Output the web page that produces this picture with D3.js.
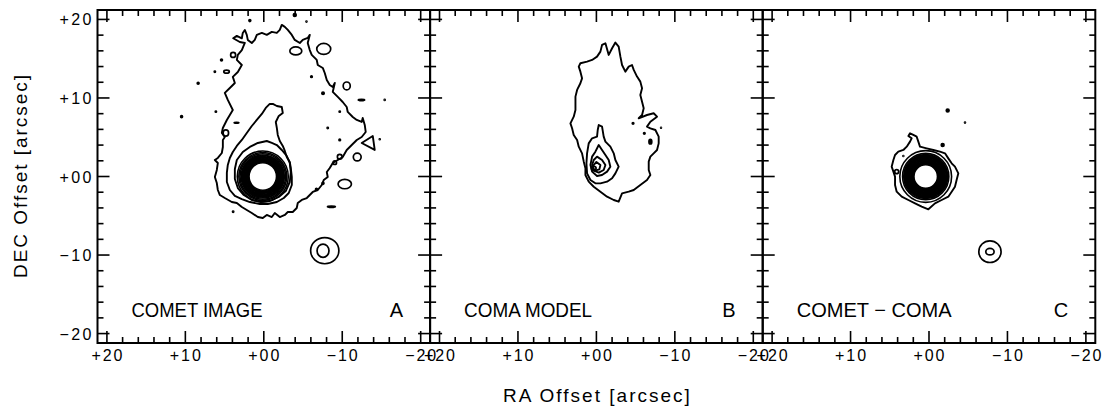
<!DOCTYPE html>
<html>
<head>
<meta charset="utf-8">
<script src="https://cdn.jsdelivr.net/npm/d3@7"></script>
<style>
  body { margin: 0; background: #fff; }
  text { font-family: "Liberation Sans", Arial, Helvetica, sans-serif; fill: #000; }
</style>
</head>
<body>
<div id="chart"></div>
<script>
// tick values + labels (arcsec)
const majorTicks = [20, 10, 0, -10, -20];
const tickLabels = ["+20", "+10", "+00", "\u221210", "\u221220"];
const panelTitles = ["COMET IMAGE", "COMA MODEL", "COMET \u2212 COMA"];
const panelLetters = ["A", "B", "C"];

// contour lines, [RA, DEC] in arcsec
const outerA = [[3.9,17.6],[3.44,17.9],[2.8,17.6],[2.68,18.28],[2.42,18.66],[2.17,18.03],[2.04,17.39],[1.53,17.0],[1.15,17.39],[0.89,18.03],[0.25,18.28],[-0.38,18.03],[-1.02,18.41],[-1.66,18.28],[-2.04,18.66],[-2.29,19.3],[-2.68,19.05],[-3.06,18.66],[-3.57,18.03],[-3.95,17.39],[-4.59,17.0],[-4.97,17.39],[-5.6,17.64],[-5.86,18.03],[-5.6,17.0],[-5.86,16.1],[-6.11,15.48],[-6.75,14.84],[-6.88,14.2],[-7.52,13.82],[-7.77,13.18],[-8.03,12.29],[-8.41,11.66],[-8.79,11.4],[-9.05,11.91],[-8.79,10.77],[-9.43,10.13],[-10.06,9.49],[-10.57,8.85],[-10.7,8.22],[-11.34,7.58],[-11.85,7.2],[-12.48,6.94],[-12.61,7.45],[-12.87,6.56],[-12.99,5.67],[-12.48,5.03],[-11.85,4.65],[-11.21,4.01],[-10.57,3.38],[-10.06,2.48],[-9.43,2.1],[-8.79,1.72],[-8.41,1.08],[-8.03,0.57],[-8.15,-0.06],[-7.64,-0.45],[-7.39,-1.08],[-6.88,-1.72],[-6.24,-1.97],[-5.86,-2.36],[-5.48,-2.74],[-4.84,-2.99],[-4.33,-3.38],[-4.2,-4.01],[-3.69,-4.52],[-3.06,-4.52],[-2.68,-4.9],[-2.04,-5.16],[-1.4,-4.65],[-1.02,-5.16],[-0.38,-4.9],[0.13,-5.29],[0.76,-5.16],[1.53,-4.65],[2.17,-4.27],[2.8,-3.89],[3.44,-3.38],[4.08,-3.25],[4.97,-2.74],[5.6,-2.36],[5.86,-1.72],[5.99,-0.83],[6.24,-0.06],[5.99,0.83],[5.86,1.72],[6.24,2.1],[5.86,2.36],[5.35,2.99],[5.22,3.76],[5.22,4.65],[4.97,5.03],[5.35,5.54],[5.22,6.18],[4.71,7.2],[4.33,7.83],[3.95,8.47],[4.59,9.75],[4.97,10.64],[4.33,11.27],[3.69,11.91],[3.95,12.68],[3.31,13.31],[2.8,14.2],[3.44,14.84],[3.31,15.48],[2.8,16.1],[2.42,17.0],[3.06,17.13]];
const tearA = [[-0.76,9.24],[-0.25,8.73],[0.25,7.96],[0.89,7.2],[1.53,6.43],[2.17,5.54],[2.8,4.65],[3.44,3.89],[3.95,3.12],[4.33,2.36],[4.59,1.47],[4.71,0.45],[4.71,-0.7],[4.33,-1.72],[3.69,-2.48],[2.8,-2.87],[1.78,-3.25],[0.51,-3.5],[-0.51,-3.5],[-1.66,-3.25],[-2.55,-2.74],[-3.18,-2.1],[-3.57,-1.08],[-3.57,-0.06],[-3.44,1.08],[-3.31,1.85],[-2.93,2.48],[-2.68,3.25],[-2.42,3.89],[-2.04,4.52],[-1.78,5.29],[-1.66,6.18],[-1.53,6.94],[-1.91,7.71],[-2.42,8.09],[-2.29,8.85],[-1.66,8.98],[-1.15,9.24]];
const innerA = [[3.44,2.1],[2.68,3.12],[1.78,3.76],[0.76,4.27],[-0.38,4.52],[-1.02,4.27],[-1.66,4.01],[-2.29,3.38],[-2.93,2.61],[-3.31,1.72],[-3.44,0.57],[-3.31,-0.7],[-2.8,-1.85],[-1.91,-2.61],[-0.76,-3.12],[0.38,-3.25],[1.53,-2.99],[2.55,-2.36],[3.31,-1.47],[3.69,-0.32],[3.69,0.96]];
const triA = [[-12.48,4.27],[-13.89,5.16],[-14.14,3.38]];

const outerB = [[-0.72,16.75],[-1.15,16.96],[-1.57,15.48],[-2.0,16.33],[-2.42,17.05],[-2.84,16.54],[-3.06,15.26],[-3.27,14.2],[-3.69,13.35],[-4.12,13.99],[-4.54,14.2],[-4.76,13.57],[-5.18,12.72],[-5.6,12.08],[-5.82,11.23],[-5.6,10.38],[-5.82,9.53],[-6.03,8.68],[-5.82,7.83],[-5.39,7.41],[-6.45,7.83],[-7.3,8.05],[-7.73,7.62],[-6.88,6.98],[-6.45,6.35],[-6.88,6.14],[-7.52,5.92],[-7.94,5.07],[-7.94,4.22],[-7.73,3.38],[-7.3,2.95],[-6.88,2.53],[-6.67,1.89],[-6.67,0.83],[-6.88,0.19],[-6.45,-0.45],[-5.6,-1.08],[-4.76,-1.72],[-4.12,-1.93],[-3.27,-2.14],[-2.84,-3.21],[-2.21,-2.99],[-1.36,-2.57],[-0.51,-1.93],[0.34,-1.3],[0.98,-0.66],[1.4,0.19],[1.4,1.04],[1.61,1.89],[1.83,2.95],[2.25,3.8],[2.46,4.65],[2.89,5.29],[3.1,6.14],[3.31,6.77],[2.89,7.62],[2.67,8.47],[2.67,9.32],[2.67,10.17],[2.46,11.02],[2.04,11.87],[1.83,12.5],[2.04,13.35],[2.25,13.99],[2.04,14.42],[1.19,14.63],[0.55,14.84],[-0.08,15.26],[-0.51,15.9]];
const midB = [[-0.3,6.56],[-0.72,6.35],[-0.93,5.07],[-1.15,4.44],[-1.78,3.8],[-2.21,2.95],[-2.42,2.1],[-2.84,1.25],[-2.42,0.4],[-2.0,-0.23],[-1.36,-0.66],[-0.51,-0.87],[0.13,-0.87],[0.76,-0.45],[1.19,0.4],[1.27,1.68],[1.19,2.95],[0.98,4.22],[0.55,4.86],[-0.08,5.07],[-0.17,5.92]];
const innerB = [[-0.3,4.01],[-0.72,3.38],[-1.15,2.74],[-1.57,2.1],[-1.78,1.25],[-1.36,0.62],[-0.72,0.19],[-0.08,0.06],[0.55,0.62],[0.76,1.46],[0.55,2.53],[0.13,3.16]];
const coreB1 = [[-0.08,2.53],[-0.72,2.1],[-1.15,1.46],[-0.93,0.83],[-0.3,0.49],[0.34,0.74],[0.55,1.46],[0.34,2.1]];
const coreB2 = [[0.0,1.85],[-0.51,1.46],[-0.38,0.91],[0.17,0.74],[0.51,1.25]];

const outerC = [[2.42,5.5],[2.0,5.29],[1.57,5.07],[1.36,4.44],[1.15,3.8],[0.3,3.59],[-0.55,3.38],[-1.4,3.16],[-2.04,2.95],[-2.46,2.31],[-2.89,1.68],[-3.31,1.25],[-3.74,0.4],[-3.52,-0.45],[-3.31,-1.3],[-2.89,-1.93],[-2.46,-2.57],[-1.61,-2.99],[-0.76,-3.42],[0.08,-4.18],[0.93,-3.84],[1.78,-3.42],[2.63,-2.99],[3.48,-2.57],[4.12,-1.93],[4.33,-1.08],[4.33,-0.02],[4.54,0.62],[4.76,1.25],[4.54,2.1],[4.33,2.74],[3.91,3.16],[3.27,3.38],[2.84,3.8],[2.42,4.44],[2.21,4.86],[2.63,5.16]];

// saturated nucleus: centre + contour radii (arcsec)
const nucleusA = [0.13, 0.0];
const ringsA = [1.75,1.85,1.95,2.05,2.15,2.25,2.35,2.45,2.55,2.65,2.75,2.9,3.05,3.25];
const nucleusC = [0.42, 0.0];
const ringsC = [1.5,1.6,1.7,1.8,1.9,2.0,2.1,2.2,2.3,2.4,2.5,2.6,2.7,2.8,2.95,3.3];

// small closed contours / specks: [RA, DEC, rx, ry]
const specksA = [[1.78,19.85,0.12,0.12],[-3.95,20.57,0.18,0.18],[-5.44,19.72,0.06,0.06],[5.39,14.84,0.12,0.12],[6.24,13.35,0.08,0.08],[-6.08,12.71,0.1,0.1],[-7.55,10.6,0.15,0.15],[-15.41,9.75,0.06,0.06],[6.11,8.26,0.08,0.08],[-9.68,8.26,0.08,0.08],[-8.15,6.18,0.08,0.08],[-9.68,4.65,0.1,0.1],[-14.78,4.74,0.06,0.06],[-7.55,-0.87,0.12,0.12],[-6.71,-1.63,0.12,0.12],[3.91,-4.48,0.08,0.08],[8.37,11.87,0.12,0.12],[10.48,7.62,0.12,0.12],[3.48,6.85,0.3,0.06],[-12.45,9.75,0.4,0.08],[-8.62,-3.85,0.5,0.08],
  [3.91,15.48,0.32,0.32],[4.75,13.35,0.35,0.2],[-4.08,15.99,0.76,0.51],[-7.64,16.24,0.89,0.7],[-10.57,11.53,0.45,0.5],[4.84,5.54,0.35,0.4],[-11.91,2.48,0.5,0.5],[-9.68,2.52,0.3,0.3],[-9.05,1.76,0.22,0.22],[-10.32,-0.96,0.85,0.6],
  [-7.77,-9.45,1.8,1.66],[-7.55,-9.45,0.76,0.85]];
const specksB = [[-4.67,6.77,0.1,0.1],[-6.11,5.5,0.1,0.1],[-6.88,4.44,0.18,0.3],[-8.24,6.22,0.05,0.05],[0.34,1.04,0.3,0.25]];
const specksC = [[4.12,0.62,0.25,0.25],[3.27,2.61,0.05,0.05],[-2.38,8.39,0.18,0.18],[-4.59,6.86,0.06,0.06],[-1.74,4.01,0.18,0.18],
  [-7.77,-9.57,1.42,1.38],[-7.77,-9.57,0.53,0.42]];

const panels = [
  {lines: [outerA, tearA, innerA, triA], specks: specksA, nucleus: nucleusA, rings: ringsA},
  {lines: [outerB, midB, innerB, coreB1, coreB2], specks: specksB, nucleus: null, rings: []},
  {lines: [outerC], specks: specksC, nucleus: nucleusC, rings: ringsC}
];

const W = 1105, H = 410;
const yTop = 10, yBot = 343, pw = 332.6, left0 = 97.5;
const lim = 21.2;

const svg = d3.select("#chart").append("svg").attr("width", W).attr("height", H);

panels.forEach((p, i) => {
  const x0 = left0 + i * pw;
  const x = d3.scaleLinear().domain([lim, -lim]).range([x0, x0 + pw]);
  const y = d3.scaleLinear().domain([lim, -lim]).range([yTop, yBot]);
  const g = svg.append("g");

  const line = d3.line().x(d => x(d[0])).y(d => y(d[1])).curve(d3.curveLinearClosed);
  g.selectAll(".cont").data(p.lines).join("path")
    .attr("class", "cont")
    .attr("d", line)
    .attr("fill", "none").attr("stroke", "#000").attr("stroke-width", 1.9)
    .attr("stroke-linejoin", "round");

  const sx = Math.abs(x(1) - x(0)), sy = Math.abs(y(1) - y(0));
  g.selectAll(".speck").data(p.specks).join("ellipse")
    .attr("class", "speck")
    .attr("cx", d => x(d[0])).attr("cy", d => y(d[1]))
    .attr("rx", d => d[2] * sx).attr("ry", d => d[3] * sy)
    .attr("fill", d => d[2] < 0.2 ? "#000" : "none")
    .attr("stroke", "#000").attr("stroke-width", 1.7);

  if (p.nucleus) {
    g.selectAll(".ring").data(p.rings).join("circle")
      .attr("class", "ring")
      .attr("cx", x(p.nucleus[0])).attr("cy", y(p.nucleus[1]))
      .attr("r", d => d * sx)
      .attr("fill", "none").attr("stroke", "#000").attr("stroke-width", 1.6);
  }

  // frame
  g.append("rect").attr("x", x0).attr("y", yTop).attr("width", pw).attr("height", yBot - yTop)
    .attr("fill", "none").attr("stroke", "#000").attr("stroke-width", 2);

  // inward ticks on all four sides
  const tv = d3.range(-20, 21, 2);
  const len = v => (v % 10 === 0 ? 12 : 6);
  const tk = g.append("g").attr("stroke", "#000").attr("stroke-width", 1.6);
  tv.forEach(v => {
    tk.append("line").attr("x1", x(v)).attr("x2", x(v)).attr("y1", yBot).attr("y2", yBot - len(v));
    tk.append("line").attr("x1", x(v)).attr("x2", x(v)).attr("y1", yTop).attr("y2", yTop + len(v));
    tk.append("line").attr("y1", y(v)).attr("y2", y(v)).attr("x1", x0).attr("x2", x0 + len(v));
    tk.append("line").attr("y1", y(v)).attr("y2", y(v)).attr("x1", x0 + pw).attr("x2", x0 + pw - len(v));
  });

  g.selectAll(".xl").data(majorTicks).join("text")
    .attr("class", "xl")
    .attr("x", d => x(d)).attr("y", 361)
    .attr("text-anchor", "middle").attr("font-size", 16)
    .attr("textLength", 31).attr("lengthAdjust", "spacing")
    .text((d, j) => tickLabels[j]);

  if (i === 0) {
    g.selectAll(".yl").data(majorTicks).join("text")
      .attr("class", "yl")
      .attr("x", x0 - 6).attr("y", d => y(d) + 6)
      .attr("text-anchor", "end").attr("font-size", 16)
      .attr("textLength", 32).attr("lengthAdjust", "spacing")
      .text((d, j) => tickLabels[j]);
  }

  const tw = [131, 128, 155][i];
  g.append("text").attr("x", x0 + 34).attr("y", 317)
    .attr("font-size", 20).attr("textLength", tw).attr("lengthAdjust", "spacingAndGlyphs")
    .text(panelTitles[i]);
  g.append("text").attr("x", x0 + pw - 27).attr("y", 317)
    .attr("font-size", 20).attr("text-anchor", "end")
    .text(panelLetters[i]);
});

svg.append("text").attr("x", left0 + 1.5 * pw).attr("y", 402)
  .attr("text-anchor", "middle").attr("font-size", 19)
  .attr("textLength", 187).attr("lengthAdjust", "spacing")
  .text("RA Offset [arcsec]");

svg.append("text").attr("transform", "translate(27,176.5) rotate(-90)")
  .attr("text-anchor", "middle").attr("font-size", 19)
  .attr("textLength", 203).attr("lengthAdjust", "spacing")
  .text("DEC Offset [arcsec]");
</script>
</body>
</html>
